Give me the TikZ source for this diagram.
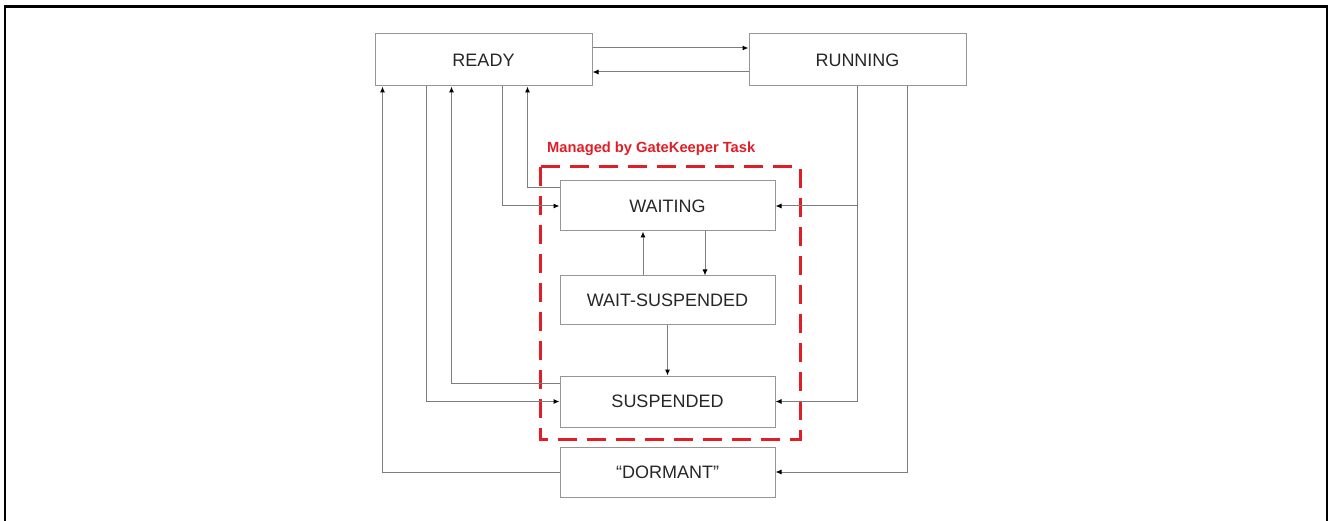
\documentclass[tikz,border=0pt]{standalone}
\usepackage{fontspec}
\setmainfont{Liberation Sans}
\usetikzlibrary{arrows.meta}
\definecolor{boxgray}{RGB}{150,150,150}
\definecolor{linegray}{RGB}{125,125,125}
\definecolor{gkred}{RGB}{225,30,38}
\tikzset{
  statebox/.style={draw=boxgray,line width=1pt,inner sep=0pt,text=black!85,
    font=\fontsize{18}{20}\selectfont},
  trans/.style={draw=linegray,line width=1pt,-{Latex[length=6pt,width=5pt,color=black]}},
}
\begin{document}
\begin{tikzpicture}[x=1pt,y=-1pt]
\useasboundingbox (0,0) rectangle (1328,521);
\draw[line width=2.5pt] (5,521) -- (5,6.5) -- (1327,6.5) -- (1327,521);
\node[statebox,minimum width=217pt,minimum height=52pt] (ready) at (483.5,60) {READY};
\node[statebox,minimum width=217pt,minimum height=52pt] (running) at (857.5,60) {RUNNING};
\node[statebox,minimum width=215pt,minimum height=50pt] (waiting) at (667.5,206) {WAITING};
\node[statebox,minimum width=215pt,minimum height=49pt] (waitsusp) at (667.5,300.5) {WAIT-SUSPENDED};
\node[statebox,minimum width=215pt,minimum height=51pt] (susp) at (667.5,401.5) {SUSPENDED};
\node[statebox,minimum width=215pt,minimum height=50pt] (dormant) at (667.5,472) {``DORMANT''};
\draw[gkred,line width=3pt,dash pattern=on 19pt off 10pt] (540,167) rectangle (800,439);
\node[anchor=west,text=gkred,inner sep=0pt,font=\fontsize{14.7}{16}\selectfont\bfseries] (gklabel) at (547,149) {Managed by GateKeeper Task};
\draw[trans] ([yshift=12pt]ready.east) -- ([yshift=12pt]running.west);
\draw[trans] ([yshift=-12pt]running.west) -- ([yshift=-12pt]ready.east);
\draw[trans] (dormant.west) -| ([xshift=8pt]ready.south west);
\draw[trans] ([xshift=52pt]ready.south west) |- (susp.west);
\draw[trans] ([yshift=18.5pt]susp.west) -| ([xshift=77pt]ready.south west);
\draw[trans] ([xshift=128pt]ready.south west) |- (waiting.west);
\draw[trans] ([yshift=18pt]waiting.west) -| ([xshift=153pt]ready.south west);
\coordinate (rdrop) at ([xshift=109pt]running.south west);
\draw[trans] (rdrop) |- (susp.east);
\draw[trans] (rdrop |- waiting.east) -- (waiting.east);
\draw[trans] ([xshift=159pt]running.south west) |- (dormant.east);
\draw[trans] ([xshift=37.5pt]waiting.south) -- ([xshift=37.5pt]waitsusp.north);
\draw[trans] ([xshift=-24.5pt]waitsusp.north) -- ([xshift=-24.5pt]waiting.south);
\draw[trans] (waitsusp.south) -- (susp.north);
\end{tikzpicture}
\end{document}
